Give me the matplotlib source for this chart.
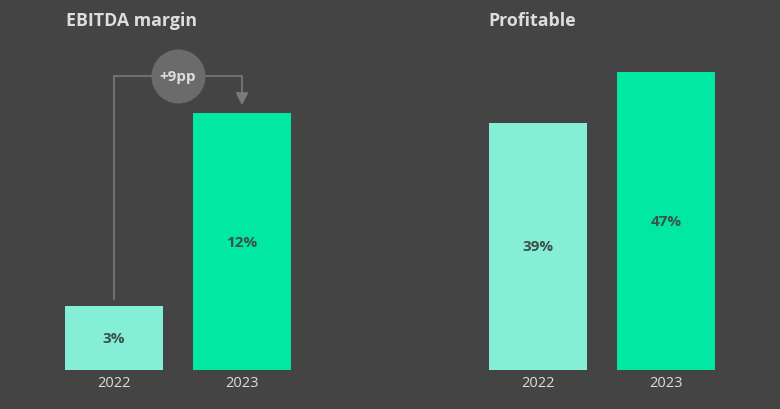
import matplotlib
matplotlib.use("Agg")
import matplotlib.pyplot as plt

plt.rcParams['font.family'] = ['Open Sans', 'DejaVu Sans']

years = ["2022", "2023"]
ebitda = [3, 12]
profitable = [39, 47]
ebitda_labels = ["3%", "12%"]
profitable_labels = ["39%", "47%"]
change_label = "+9pp"

BG = "#444444"
C_LIGHT = "#85EED6"
C_BRIGHT = "#00E8A2"
TXT = "#DDDDDD"
VAL = "#3E5048"
LINE = "#7A7A7A"
CIRC = "#6B6B6B"

W, H = 780, 410
fig = plt.figure(figsize=(W / 100, H / 100), dpi=100, facecolor=BG)

def make_axes(left_px, scale, ytop):
    # bars at 0 and 1 spaced 128 px; xlim (-0.6, 1.6)
    width_px = 2.2 * 128
    height_px = ytop * scale
    bottom_px = 39
    ax = fig.add_axes([left_px / W, bottom_px / H, width_px / W, height_px / H])
    ax.set_xlim(-0.6, 1.6)
    ax.set_ylim(0, ytop)
    ax.set_facecolor("none")
    for s in ax.spines.values():
        s.set_visible(False)
    ax.set_yticks([])
    ax.tick_params(axis="x", length=0, colors=TXT, labelsize=10.5, pad=3.5)
    return ax

bar_w = 98 / 128

# Left panel
scale_l = 21.4
axl = make_axes(114 - 0.6 * 128, scale_l, 16)
bars = axl.bar([0, 1], ebitda, width=bar_w, color=[C_LIGHT, C_BRIGHT])
axl.set_xticks([0, 1])
axl.set_xticklabels(years)
for b, lab in zip(bars, ebitda_labels):
    axl.text(b.get_x() + b.get_width() / 2, b.get_height() / 2, lab,
             ha="center", va="center", fontsize=11, fontweight="bold", color=VAL)

y_line = (371 - 77) / scale_l
y_start = ebitda[0] + 7 / scale_l
y_tip = ebitda[1] + 8 / scale_l
axl.plot([0, 0, 1, 1], [y_start, y_line, y_line, y_tip + 0.3], color=LINE, lw=1.2,
         solid_joinstyle="miter", zorder=2)
axl.annotate("", xy=(1, y_tip), xytext=(1, y_tip + 0.55),
             arrowprops=dict(arrowstyle="-|>,head_length=0.75,head_width=0.38",
                             color=LINE, lw=1.2, shrinkA=0, shrinkB=0))
axl.scatter([0.5], [y_line], s=(54 * 0.72) ** 2, color=CIRC, zorder=3, linewidths=0)
axl.text(0.5, y_line, change_label, ha="center", va="center", fontsize=11,
         fontweight="bold", color=TXT, zorder=4)

# Right panel
scale_r = 6.34
axr = make_axes(538 - 0.6 * 128, scale_r, 55)
bars = axr.bar([0, 1], profitable, width=bar_w, color=[C_LIGHT, C_BRIGHT])
axr.set_xticks([0, 1])
axr.set_xticklabels(years)
for b, lab in zip(bars, profitable_labels):
    axr.text(b.get_x() + b.get_width() / 2, b.get_height() / 2, lab,
             ha="center", va="center", fontsize=11, fontweight="bold", color=VAL)

fig.text(66 / W, 1 - 21 / H, "EBITDA margin", ha="left", va="center",
         fontsize=12.8, fontweight="bold", color=TXT)
fig.text(488 / W, 1 - 21 / H, "Profitable", ha="left", va="center",
         fontsize=12.8, fontweight="bold", color=TXT)

fig.savefig("out.png", dpi=100, facecolor=BG)
